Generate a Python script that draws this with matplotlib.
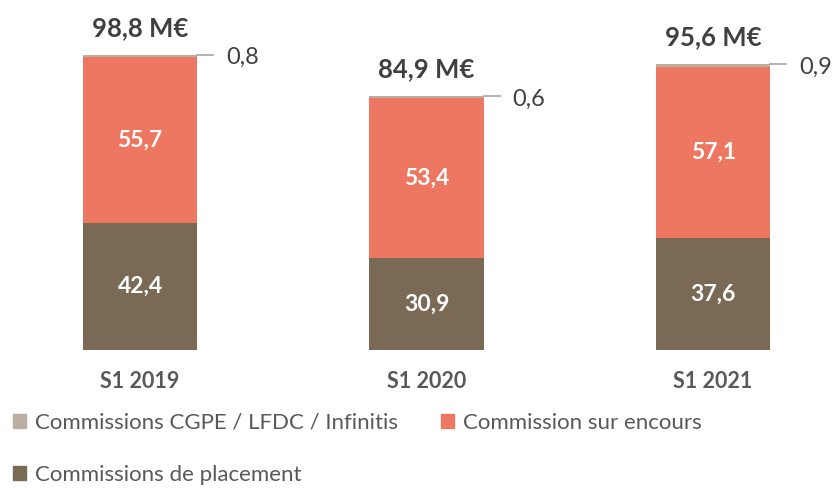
import matplotlib.pyplot as plt
from matplotlib.patches import Patch

plt.rcParams['font.family'] = ['Lato', 'DejaVu Sans']

periods = ['S1 2019', 'S1 2020', 'S1 2021']
placement = [42.4, 30.9, 37.6]
encours = [55.7, 53.4, 57.1]
cgpe = [0.8, 0.6, 0.9]
totals = ['98,8 M€', '84,9 M€', '95,6 M€']

c_place = '#7A6954'
c_enc = '#EE7761'
c_cgpe = '#BBAEA1'
grey = '#595959'

fig = plt.figure(figsize=(8.36, 4.88), dpi=100)
ax = fig.add_axes([0, 0.283, 1, 0.717])

x = list(range(len(periods)))
w = 0.40
ax.bar(x, placement, w, color=c_place)
ax.bar(x, encours, w, bottom=placement, color=c_enc)
bot2 = [a + b for a, b in zip(placement, encours)]
ax.bar(x, cgpe, w, bottom=bot2, color=c_cgpe)

def fmt(v):
    return f'{v:.1f}'.replace('.', ',')

for i in x:
    ax.text(i, placement[i] / 2, fmt(placement[i]), ha='center', va='center',
            color='white', fontsize=16.5, fontweight='bold')
    ax.text(i, placement[i] + encours[i] / 2, fmt(encours[i]), ha='center', va='center',
            color='white', fontsize=16.5, fontweight='bold')
    top = bot2[i] + cgpe[i]
    ax.plot([i + w / 2, i + 0.255], [top, top], color='#A6A6A6', lw=1.2)
    ax.text(i + 0.30, top - 1.0, fmt(cgpe[i]), ha='left', va='center',
            color='#404040', fontsize=17)
    ax.text(i, top + 9.0, totals[i], ha='center', va='center',
            color='#404040', fontsize=18.5, fontweight='bold')
    ax.text(i, -10.5, periods[i], ha='center', va='center',
            color=grey, fontsize=15.5, fontweight='bold')

ax.set_xlim(-0.4887, 2.429)
ax.set_ylim(0, 117.2)
ax.axis('off')

handles = [Patch(color=c_cgpe, label='Commissions CGPE / LFDC / Infinitis'),
           Patch(color=c_place, label='Commissions de placement'),
           Patch(color=c_enc, label='Commission sur encours')]
leg = fig.legend(handles=handles, loc='upper left', bbox_to_anchor=(0.005, 0.172),
                 ncol=2, frameon=False, fontsize=16, handlelength=0.6, handleheight=0.6,
                 handletextpad=0.4, columnspacing=1.9, labelspacing=1.45,
                 borderaxespad=0)
for t in leg.get_texts():
    t.set_color(grey)

fig.savefig('out.png', dpi=100)
